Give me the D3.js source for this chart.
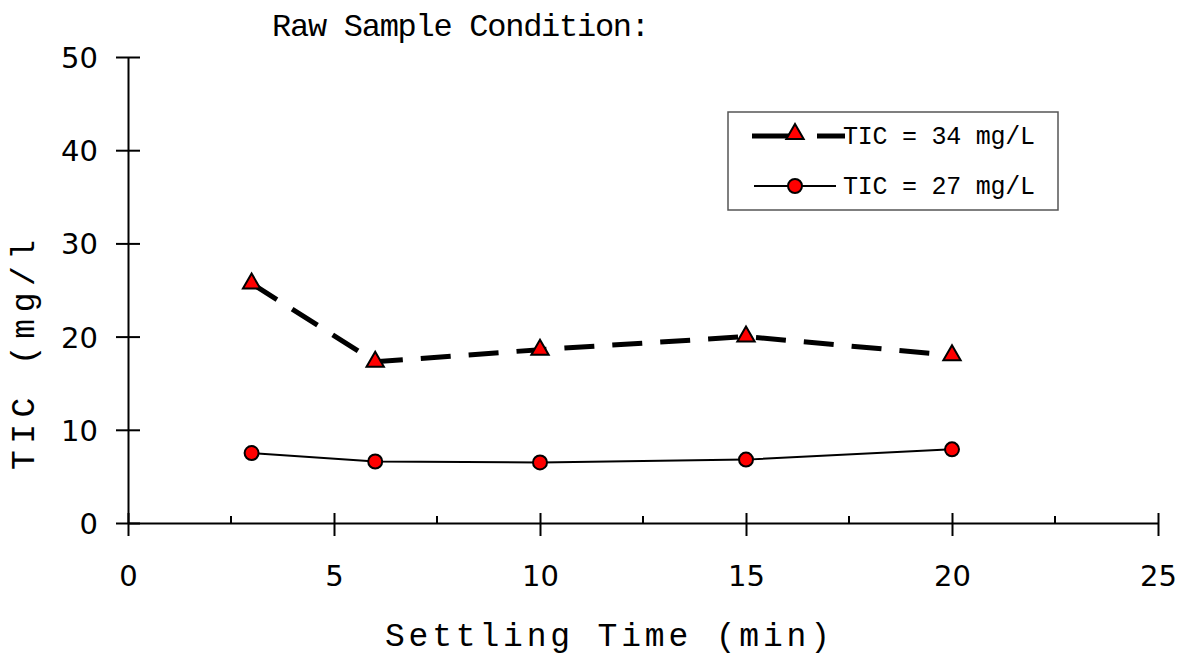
<!DOCTYPE html>
<html>
<head>
<meta charset="utf-8">
<script src="https://cdn.jsdelivr.net/npm/d3@7"></script>
<style>
  body { margin: 0; background: #fff; }
  .mono { font-family: "Liberation Mono", "Courier New", monospace; fill: #000; }
</style>
</head>
<body>
<div id="chart"></div>
<script>
// Settling time (min)
const times = [3, 6, 10, 15, 20];
// TIC values (mg/l)
const tic34 = [25.7, 17.3, 18.6, 20.0, 18.0];
const tic27 = [7.5, 6.6, 6.5, 6.8, 7.9];
const seriesNames = ["TIC = 34 mg/L", "TIC = 27 mg/L"];
const xTicks = [0, 5, 10, 15, 20, 25];
const yTicks = [0, 10, 20, 30, 40, 50];

const svgWidth = 1185;
const svgHeight = 660;

const margin = { top: 57, right: 27, bottom: 137, left: 128 };
const width = svgWidth - margin.left - margin.right;
const height = svgHeight - margin.top - margin.bottom;

const svg = d3.select("#chart")
    .append("svg")
    .attr("width", svgWidth)
    .attr("height", svgHeight);

const chartGroup = svg.append("g")
    .attr("transform", `translate(${margin.left}, ${margin.top})`);

const x = d3.scaleLinear().domain([0, 25]).range([0, width]);
const y = d3.scaleLinear().domain([0, 50]).range([height, 0]);

// x axis: major ticks cross the line, minor ticks only above
const xAxis = chartGroup.append("g")
    .attr("transform", `translate(0, ${height})`)
    .call(d3.axisBottom(x).tickValues(xTicks).tickSize(0).tickPadding(42));
xAxis.attr("font-family", "DejaVu Sans, sans-serif").attr("font-size", 29);
xAxis.select(".domain").attr("stroke", "#000").attr("stroke-width", 2);
xAxis.selectAll(".tick").append("line")
    .attr("y1", -10).attr("y2", 13)
    .attr("stroke", "#000").attr("stroke-width", 2);
chartGroup.append("g")
    .selectAll("line")
    .data(d3.range(2.5, 25, 5))
    .join("line")
    .attr("x1", d => x(d)).attr("x2", d => x(d))
    .attr("y1", height - 7).attr("y2", height)
    .attr("stroke", "#000").attr("stroke-width", 2);

// y axis
const yAxis = chartGroup.append("g")
    .call(d3.axisLeft(y).tickValues(yTicks).tickSize(0).tickPadding(30));
yAxis.attr("font-family", "DejaVu Sans, sans-serif").attr("font-size", 29);
yAxis.select(".domain").attr("stroke", "#000").attr("stroke-width", 2);
yAxis.selectAll(".tick text").attr("dy", "0.36em");
yAxis.selectAll(".tick").append("line")
    .attr("x1", -12).attr("x2", 12)
    .attr("stroke", "#000").attr("stroke-width", 2);

// lines
const line = d3.line().x(d => x(d[0])).y(d => y(d[1]));

chartGroup.append("path")
    .datum(d3.zip(times, tic27))
    .attr("d", line)
    .attr("fill", "none")
    .attr("stroke", "#000")
    .attr("stroke-width", 2);

chartGroup.append("path")
    .datum(d3.zip(times, tic34))
    .attr("d", line)
    .attr("fill", "none")
    .attr("stroke", "#000")
    .attr("stroke-width", 5)
    .attr("stroke-dasharray", "30,18");

// markers
const tri = d3.symbol().type(d3.symbolTriangle).size(130);

chartGroup.selectAll(".tri")
    .data(d3.zip(times, tic34))
    .join("path")
    .attr("class", "tri")
    .attr("d", tri)
    .attr("transform", d => `translate(${x(d[0])}, ${y(d[1])})`)
    .attr("fill", "#ff0000")
    .attr("stroke", "#000")
    .attr("stroke-width", 2);

chartGroup.selectAll(".dot")
    .data(d3.zip(times, tic27))
    .join("circle")
    .attr("class", "dot")
    .attr("cx", d => x(d[0]))
    .attr("cy", d => y(d[1]))
    .attr("r", 7)
    .attr("fill", "#ff0000")
    .attr("stroke", "#000")
    .attr("stroke-width", 2);

// titles
svg.append("text")
    .attr("class", "mono")
    .attr("x", 272).attr("y", 36)
    .attr("font-size", 32)
    .attr("textLength", 378)
    .attr("lengthAdjust", "spacing")
    .text("Raw Sample Condition:");

svg.append("text")
    .attr("class", "mono")
    .attr("x", 385).attr("y", 646)
    .attr("font-size", 33)
    .attr("textLength", 445)
    .attr("lengthAdjust", "spacing")
    .text("Settling Time (min)");

svg.append("text")
    .attr("class", "mono")
    .attr("transform", "translate(34, 470) rotate(-90)")
    .attr("font-size", 33)
    .attr("textLength", 230)
    .attr("lengthAdjust", "spacing")
    .text("TIC (mg/l");

// legend
const legend = svg.append("g").attr("transform", "translate(728, 112)");
legend.append("rect")
    .attr("width", 330).attr("height", 98)
    .attr("fill", "#fff")
    .attr("stroke", "#555").attr("stroke-width", 1.5);

legend.append("line")
    .attr("x1", 24).attr("x2", 67).attr("y1", 24).attr("y2", 24)
    .attr("stroke", "#000").attr("stroke-width", 5);
legend.append("line")
    .attr("x1", 89).attr("x2", 117).attr("y1", 24).attr("y2", 24)
    .attr("stroke", "#000").attr("stroke-width", 5);
legend.append("path")
    .attr("d", tri)
    .attr("transform", "translate(67, 22)")
    .attr("fill", "#ff0000").attr("stroke", "#000").attr("stroke-width", 2);

legend.append("line")
    .attr("x1", 26).attr("x2", 108).attr("y1", 74).attr("y2", 74)
    .attr("stroke", "#000").attr("stroke-width", 2);
legend.append("circle")
    .attr("cx", 67).attr("cy", 74).attr("r", 7)
    .attr("fill", "#ff0000").attr("stroke", "#000").attr("stroke-width", 2);

legend.selectAll(".ltext")
    .data(seriesNames)
    .join("text")
    .attr("class", "mono ltext")
    .attr("x", 115)
    .attr("y", (d, i) => 32 + i * 50)
    .attr("font-size", 25)
    .attr("textLength", 192)
    .attr("lengthAdjust", "spacing")
    .text(d => d);
</script>
</body>
</html>
